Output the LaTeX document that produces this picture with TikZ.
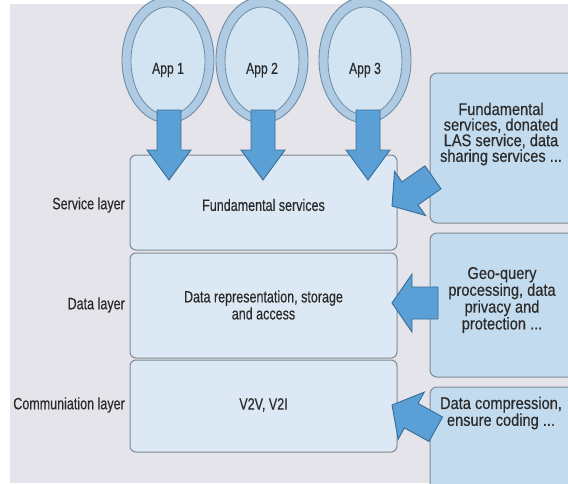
\documentclass[tikz,border=0pt]{standalone}
\usepackage{fontspec}
\setmainfont{Liberation Sans}[FakeStretch=0.76,FakeBold=0.35]
\newfontfamily\rfont{Liberation Sans}[FakeStretch=0.86,FakeBold=0.35]
\definecolor{bggray}{HTML}{E5E4EA}
\definecolor{layerfill}{HTML}{DCE9F4}
\definecolor{sidefill}{HTML}{C3DBEE}
\definecolor{boxline}{HTML}{7E8A93}
\definecolor{ringfill}{HTML}{AECBE3}
\definecolor{innerfill}{HTML}{D2E3F1}
\definecolor{ringline}{HTML}{6D8CA6}
\definecolor{arrfill}{HTML}{5A9FD6}
\definecolor{arrline}{HTML}{3A6D95}
\definecolor{txt}{HTML}{2A2A2A}
\tikzset{
  layerbox/.style={draw=boxline, line width=1pt, fill=layerfill, rounded corners=6pt},
  sidebox/.style={draw=boxline, line width=1pt, fill=sidefill, rounded corners=7pt},
  ring/.style={draw=ringline, line width=0.9pt, fill=ringfill},
  innerring/.style={draw=ringline, line width=0.8pt, fill=innerfill},
  fatarrow/.style={draw=arrline, line width=0.9pt, fill=arrfill, line join=miter},
  lbl/.style={text=txt, font=\fontsize{16.5}{17}\selectfont, inner sep=0pt},
  sidetxt/.style={text=txt, font=\rfont\fontsize{17}{15.6}\selectfont, align=center, inner sep=0pt},
}
% #1 tip, #2 angle of body, #3 length, #4 shaft half width, #5 head half width, #6 head length
\newcommand\blockarrow[6]{%
  \begin{scope}[shift={(#1)},rotate=#2]
    \draw[fatarrow] (0,0) -- (#6,#5) -- (#6,#4) -- (#3,#4) -- (#3,-#4) -- (#6,-#4) -- (#6,-#5) -- cycle;
  \end{scope}}
\begin{document}
\begin{tikzpicture}[x=1pt,y=-1pt]
\useasboundingbox (0,0) rectangle (568,483);
\fill[bggray] (10,4) rectangle (568,483);
\begin{scope}
\clip (0,0) rectangle (568,483);
% layers
\draw[layerbox] (130,155) rectangle (397,250);
\draw[layerbox] (130,253) rectangle (397,358);
\draw[layerbox] (130,360) rectangle (397,452);
\node[lbl] (svc) at (263.5,205) {Fundamental services};
\node[lbl, align=center] (dat) at (263.5,305) {Data representation, storage\\and access};
\node[lbl] (com) at (263.5,405) {V2V, V2I};
\node[lbl, anchor=east] (svcl) at (125,205) {Service layer};
\node[lbl, anchor=east] (datl) at (125,305) {Data layer};
\node[lbl, anchor=east] (coml) at (125,405) {Communiation layer};
% side boxes
\draw[sidebox] (430,73) rectangle (580,223);
\draw[sidebox] (430,233) rectangle (580,377);
\draw[sidebox] (430,387) rectangle (580,495);
\node[sidetxt] (s1) at (501,134) {Fundamental\\services, donated\\LAS service, data\\sharing services ...};
\node[sidetxt] (s2) at (502,300) {Geo-query\\processing, data\\privacy and\\protection ...};
\node[sidetxt] (s3) at (501,413) {Data compression,\\ensure coding ...};
% apps
\foreach \n/\cx in {1/168,2/262,3/365}{
  \draw[ring] (\cx,60) ellipse [x radius=46, y radius=63];
  \draw[innerring] (\cx,61) ellipse [x radius=37, y radius=54];
  \node[lbl, font=\fontsize{16}{16}\selectfont] (app\n) at (\cx,70) {App \n};
}
% down arrows
\blockarrow{169,180}{90}{70}{12}{22}{30}
\blockarrow{263,180}{90}{70}{12}{22}{30}
\blockarrow{368,180}{90}{70}{12}{22}{30}
% side arrows
\blockarrow{392,206}{35}{50}{14}{27}{22}
\blockarrow{392,303}{0}{46}{16}{29}{20}
\blockarrow{392,405}{-29}{50}{14}{27}{22}
\end{scope}
\end{tikzpicture}
\end{document}
